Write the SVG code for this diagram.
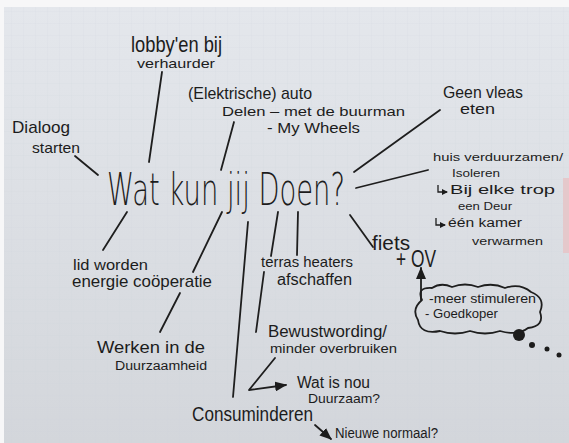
<svg xmlns="http://www.w3.org/2000/svg" width="569" height="443" viewBox="0 0 569 443">
<defs>
  <linearGradient id="paper" x1="0" y1="0" x2="0" y2="1">
    <stop offset="0" stop-color="#e4e7ec"/>
    <stop offset="1" stop-color="#d3d6db"/>
  </linearGradient>
  <pattern id="grid" width="12" height="12" patternUnits="userSpaceOnUse">
    <path d="M12 0V12M0 12H12" fill="none" stroke="#c9ced6" stroke-width="0.6" opacity="0.45"/>
  </pattern>
  <marker id="head" markerWidth="12" markerHeight="10" refX="11" refY="5" orient="auto" markerUnits="userSpaceOnUse">
    <path d="M0 0L12 5L0 10Z" fill="#1c1c1c"/>
  </marker>
  <marker id="small" markerWidth="6" markerHeight="6" refX="5" refY="3" orient="auto" markerUnits="userSpaceOnUse">
    <path d="M0 0L6 3L0 6Z" fill="#1c1c1c"/>
  </marker>
  <style>
    text { font-family: "Liberation Sans", "DejaVu Sans", sans-serif; fill: #1c1c1c; }
    .big { font-family: "DejaVu Sans", "Liberation Sans", sans-serif; font-weight: 200; }
    .ln { stroke: #1e1e1e; stroke-width: 1.8; fill: none; stroke-linecap: round; stroke-linejoin: round; }
    .sub { stroke: #1e1e1e; stroke-width: 1.3; fill: none; marker-end: url(#small); }
    .arr { marker-end: url(#head); }
  </style>
</defs>

<rect x="0" y="0" width="569" height="443" fill="#f7f7f8"/>
<rect x="4" y="7" width="565" height="436" fill="url(#paper)"/>
<rect x="4" y="7" width="565" height="436" fill="url(#grid)"/>
<rect x="563" y="178" width="6" height="75" fill="#e5c8cb"/>

<g id="connectors">
  <line class="ln" x1="162" y1="72" x2="149" y2="162"/>
  <line class="ln" x1="75" y1="156" x2="98" y2="175"/>
  <line class="ln" x1="234" y1="122" x2="221" y2="170"/>
  <line class="ln" x1="354" y1="172" x2="440" y2="110"/>
  <line class="ln" x1="356" y1="188" x2="428" y2="170"/>
  <line class="ln" x1="350" y1="215" x2="373" y2="247"/>
  <line class="ln" x1="127" y1="212" x2="103" y2="250"/>
  <line class="ln" x1="222" y1="212" x2="193" y2="272"/>
  <line class="ln" x1="248" y1="222" x2="233" y2="397"/>
  <line class="ln" x1="278" y1="212" x2="271" y2="256"/>
  <line class="ln" x1="298" y1="212" x2="297" y2="255"/>
  <line class="ln" x1="264" y1="272" x2="256" y2="332"/>
  <line class="ln" x1="180" y1="293" x2="160" y2="332"/>
  <polyline class="ln arr" points="275,358 249,390 286,385"/>
  <line class="ln arr" x1="421" y1="300" x2="421" y2="268"/>
  <line class="ln arr" x1="315" y1="425" x2="331" y2="439"/>
</g>

<g id="center">
  <text class="big" x="107" y="205" font-size="44" textLength="238" lengthAdjust="spacingAndGlyphs">Wat kun jij Doen?</text>
</g>
<g id="lobby">
  <text x="131" y="52" font-size="22" textLength="91" lengthAdjust="spacingAndGlyphs">lobby'en bij</text>
  <text x="137" y="68" font-size="13" textLength="78" lengthAdjust="spacingAndGlyphs">verhaurder</text>
</g>
<g id="dialoog">
  <text x="12" y="133" font-size="17" textLength="58" lengthAdjust="spacingAndGlyphs">Dialoog</text>
  <text x="32" y="153" font-size="15" textLength="48" lengthAdjust="spacingAndGlyphs">starten</text>
</g>
<g id="auto">
  <text x="188" y="99" font-size="17" textLength="124" lengthAdjust="spacingAndGlyphs">(Elektrische) auto</text>
  <text x="222" y="116" font-size="13" textLength="183" lengthAdjust="spacingAndGlyphs">Delen – met de buurman</text>
  <text x="267" y="133" font-size="14" textLength="93" lengthAdjust="spacingAndGlyphs">- My Wheels</text>
</g>
<g id="vlees">
  <text x="443" y="98" font-size="16" textLength="80" lengthAdjust="spacingAndGlyphs">Geen vleas</text>
  <text x="460" y="114" font-size="15" textLength="35" lengthAdjust="spacingAndGlyphs">eten</text>
</g>
<g id="huis">
  <text x="433" y="161" font-size="11" textLength="130" lengthAdjust="spacingAndGlyphs">huis verduurzamen/</text>
  <text x="452" y="177" font-size="10" textLength="48" lengthAdjust="spacingAndGlyphs">Isoleren</text>
  <path class="sub" d="M438 185V192H447"/>
  <text x="450" y="194" font-size="12" textLength="105" lengthAdjust="spacingAndGlyphs">Bij elke trop</text>
  <text x="458" y="210" font-size="10" textLength="54" lengthAdjust="spacingAndGlyphs">een Deur</text>
  <path class="sub" d="M436 218V225H445"/>
  <text x="448" y="227" font-size="12" textLength="74" lengthAdjust="spacingAndGlyphs">één kamer</text>
  <text x="472" y="245" font-size="11" textLength="71" lengthAdjust="spacingAndGlyphs">verwarmen</text>
</g>
<g id="fiets">
  <text x="372" y="250" font-size="20" textLength="38" lengthAdjust="spacingAndGlyphs">fiets</text>
  <text x="396" y="267" font-size="24" textLength="40" lengthAdjust="spacingAndGlyphs">+ OV</text>
</g>
<g id="cloud">
  <path class="ln" d="M422 300Q416 287 432 288Q441 282 452 287Q465 282 478 287Q492 282 505 288Q520 283 531 292Q546 298 540 312Q545 326 528 328Q518 336 500 331Q485 336 470 331Q455 336 440 331Q420 335 418 320Q411 309 422 300Z"/>
  <text x="429" y="303" font-size="13" textLength="107" lengthAdjust="spacingAndGlyphs">-meer stimuleren</text>
  <text x="425" y="318" font-size="13" textLength="73" lengthAdjust="spacingAndGlyphs">- Goedkoper</text>
  <circle cx="519" cy="335" r="6" fill="#1c1c1c"/>
  <circle cx="532" cy="345" r="3" fill="#1c1c1c"/>
  <circle cx="547" cy="349" r="2.5" fill="#1c1c1c"/>
  <circle cx="559" cy="355" r="2.5" fill="#1c1c1c"/>
</g>
<g id="lid">
  <text x="73" y="270" font-size="15" textLength="75" lengthAdjust="spacingAndGlyphs">lid worden</text>
  <text x="72" y="287" font-size="17" textLength="140" lengthAdjust="spacingAndGlyphs">energie coöperatie</text>
</g>
<g id="werken">
  <text x="97" y="353" font-size="16" textLength="108" lengthAdjust="spacingAndGlyphs">Werken in de</text>
  <text x="115" y="370" font-size="12" textLength="92" lengthAdjust="spacingAndGlyphs">Duurzaamheid</text>
</g>
<g id="terras">
  <text x="261" y="267" font-size="15" textLength="92" lengthAdjust="spacingAndGlyphs">terras heaters</text>
  <text x="277" y="285" font-size="16" textLength="75" lengthAdjust="spacingAndGlyphs">afschaffen</text>
</g>
<g id="bewust">
  <text x="268" y="337" font-size="16" textLength="119" lengthAdjust="spacingAndGlyphs">Bewustwording/</text>
  <text x="270" y="353" font-size="13" textLength="127" lengthAdjust="spacingAndGlyphs">minder overbruiken</text>
</g>
<g id="duurzaam">
  <text x="297" y="388" font-size="16" textLength="73" lengthAdjust="spacingAndGlyphs">Wat is nou</text>
  <text x="308" y="403" font-size="13" textLength="72" lengthAdjust="spacingAndGlyphs">Duurzaam?</text>
</g>
<g id="consuminderen">
  <text x="192" y="421" font-size="20" textLength="121" lengthAdjust="spacingAndGlyphs">Consuminderen</text>
</g>
<g id="normaal">
  <text x="335" y="438" font-size="14" textLength="103" lengthAdjust="spacingAndGlyphs">Nieuwe normaal?</text>
</g>
</svg>
